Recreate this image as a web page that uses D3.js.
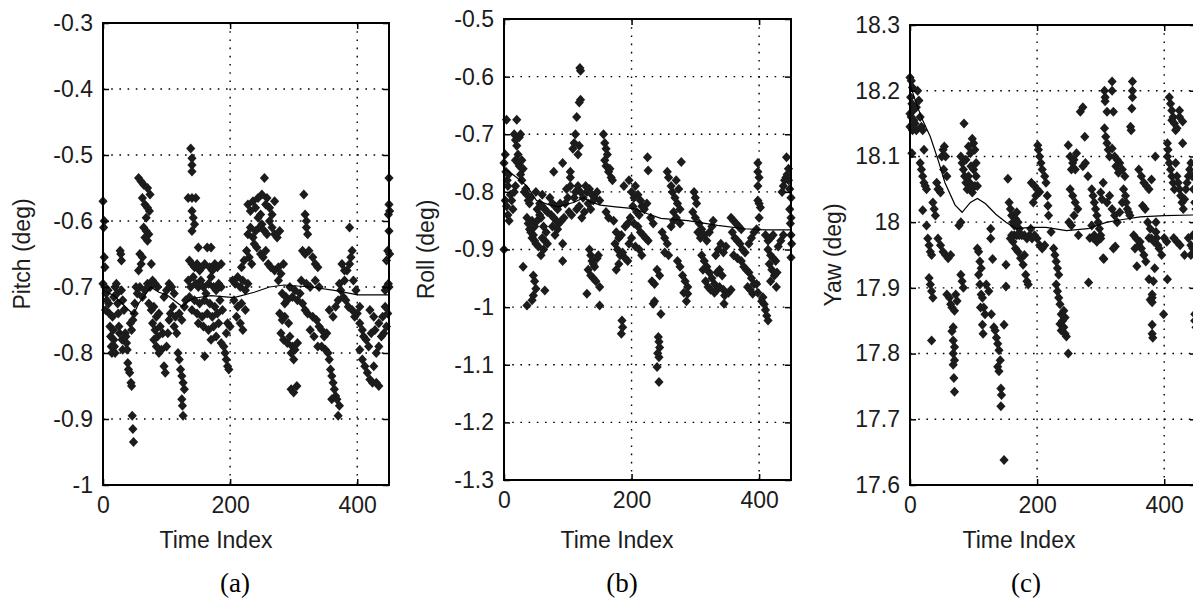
<!DOCTYPE html>
<html>
<head>
<meta charset="utf-8">
<script src="https://cdn.jsdelivr.net/npm/d3@7"></script>
<style>
  body { margin: 0; background: #fff; overflow: hidden; }
  svg { display: block; }
</style>
</head>
<body>
<svg id="fig" width="1193" height="600"></svg>
<script>
'use strict';

// ---- data: [time index, value] ----
const pitchPts = [
  [0,-0.57],[1,-0.61],[2,-0.60],[2,-0.655],[3,-0.67],[0,-0.695],[3,-0.70],[5,-0.71],[6,-0.72],[4,-0.735],[8,-0.705],[9,-0.725],[10,-0.74],[11,-0.76],[12,-0.775],[13,-0.79],[14,-0.80],[16,-0.765],[17,-0.78],[18,-0.79],[19,-0.80],[15,-0.745],[17,-0.715],[19,-0.70],[21,-0.695],[22,-0.71],[23,-0.725],[24,-0.74],[25,-0.76],[26,-0.77],[27,-0.645],[28,-0.65],[29,-0.66],[30,-0.78],[31,-0.795],[29,-0.705],[31,-0.72],
  [33,-0.735],[35,-0.77],[36,-0.775],[37,-0.785],[38,-0.795],[39,-0.815],[40,-0.825],[42,-0.83],[44,-0.845],[45,-0.85],[46,-0.895],[47,-0.915],[48,-0.935],[43,-0.755],[45,-0.765],[47,-0.75],[49,-0.74],[50,-0.725],[52,-0.70],[54,-0.71],
  [56,-0.535],[60,-0.54],[64,-0.545],[70,-0.55],[74,-0.56],[62,-0.565],[66,-0.575],[70,-0.58],[73,-0.585],[68,-0.595],[64,-0.61],[68,-0.615],[72,-0.62],[66,-0.625],[70,-0.63],[58,-0.65],[62,-0.655],[60,-0.665],[56,-0.675],[76,-0.665],
  [58,-0.70],[62,-0.715],[66,-0.705],[70,-0.695],[74,-0.70],[78,-0.69],[82,-0.695],[86,-0.70],[72,-0.725],[76,-0.735],[80,-0.73],[84,-0.745],[88,-0.74],[78,-0.755],[82,-0.765],[86,-0.775],[90,-0.76],[94,-0.77],[80,-0.78],[84,-0.79],[88,-0.80],[92,-0.795],[96,-0.82],[98,-0.83],[100,-0.79],[102,-0.77],[104,-0.75],[106,-0.74],[96,-0.715],[100,-0.705],[104,-0.695],[108,-0.70],[112,-0.71],[110,-0.73],[114,-0.745],[112,-0.76],[116,-0.77],[118,-0.80],[120,-0.81],[122,-0.825],[124,-0.835],[126,-0.845],[128,-0.855],[124,-0.87],[125,-0.88],[126,-0.895],[120,-0.74],[124,-0.75],[128,-0.73],[130,-0.72],
  [138,-0.49],[140,-0.505],[140,-0.515],[140,-0.525],[134,-0.565],[140,-0.565],[146,-0.565],[140,-0.585],[142,-0.595],[144,-0.605],[140,-0.615],[150,-0.64],[136,-0.66],[140,-0.665],[144,-0.67],[148,-0.665],[152,-0.675],[156,-0.67],[160,-0.665],[164,-0.64],[170,-0.64],[168,-0.67],[172,-0.675],[176,-0.665],[180,-0.67],[186,-0.665],[134,-0.69],[138,-0.70],[142,-0.685],[146,-0.695],[150,-0.70],[154,-0.69],[158,-0.70],[162,-0.71],[166,-0.695],[170,-0.685],[174,-0.70],[178,-0.705],[182,-0.695],[186,-0.70],[136,-0.715],[144,-0.72],[152,-0.725],[160,-0.72],[168,-0.725],[176,-0.73],[184,-0.72],[140,-0.735],[148,-0.74],[156,-0.745],[164,-0.74],[172,-0.745],[180,-0.74],[188,-0.735],[150,-0.755],[158,-0.76],[166,-0.765],[174,-0.76],[182,-0.755],[160,-0.805],[170,-0.78],[178,-0.775],[186,-0.785],[190,-0.79],[192,-0.80],[194,-0.81],[196,-0.82],[198,-0.825],[194,-0.77],[196,-0.755],[200,-0.76],
  [204,-0.69],[208,-0.695],[212,-0.685],[216,-0.70],[220,-0.69],[224,-0.705],[228,-0.695],[206,-0.72],[212,-0.73],[218,-0.725],[224,-0.735],[210,-0.745],[216,-0.755],[220,-0.765],[226,-0.645],[230,-0.655],[234,-0.665],[218,-0.67],[222,-0.66],[228,-0.62],[232,-0.61],[236,-0.625],[240,-0.615],[228,-0.575],[232,-0.585],[236,-0.57],[240,-0.58],[244,-0.595],[248,-0.59],[244,-0.565],[250,-0.56],[254,-0.535],[238,-0.635],[242,-0.64],[246,-0.61],[250,-0.605],[254,-0.615],[258,-0.62],[262,-0.60],[266,-0.61],[270,-0.62],[274,-0.625],[278,-0.615],[256,-0.575],[258,-0.565],[262,-0.58],[266,-0.59],[270,-0.57],[248,-0.65],[252,-0.655],[256,-0.645],[260,-0.665],[264,-0.67],[270,-0.675],[276,-0.67],[280,-0.68],[284,-0.665],[276,-0.69],
  [282,-0.71],[286,-0.725],[288,-0.715],[278,-0.74],[282,-0.75],[286,-0.745],[292,-0.755],[280,-0.77],[284,-0.78],[290,-0.785],[294,-0.775],[298,-0.79],[302,-0.795],[306,-0.785],[296,-0.80],[300,-0.81],[296,-0.855],[300,-0.86],[305,-0.85],[290,-0.72],[294,-0.70],[298,-0.715],[302,-0.705],[306,-0.72],[310,-0.71],[314,-0.725],[318,-0.735],[316,-0.56],[318,-0.59],[320,-0.60],[320,-0.61],[322,-0.62],[314,-0.645],[318,-0.65],[324,-0.645],[330,-0.655],[334,-0.665],[338,-0.67],[312,-0.69],[320,-0.695],[326,-0.70],[334,-0.69],[340,-0.70],[322,-0.74],[330,-0.745],[336,-0.75],[340,-0.76],[344,-0.765],[348,-0.775],[352,-0.77],[326,-0.765],[332,-0.775],[338,-0.79],[344,-0.79],[350,-0.795],[354,-0.80],
  [356,-0.81],[358,-0.825],[360,-0.835],[362,-0.845],[364,-0.855],[366,-0.865],[360,-0.87],[368,-0.87],[372,-0.88],[370,-0.895],[356,-0.735],[362,-0.745],[366,-0.73],[370,-0.72],[374,-0.705],[378,-0.715],[382,-0.72],[386,-0.73],[372,-0.695],[380,-0.69],[384,-0.675],[388,-0.665],[390,-0.655],[392,-0.645],[388,-0.61],[376,-0.665],[380,-0.675],[394,-0.69],[398,-0.705],[392,-0.735],[396,-0.745],[400,-0.74],[404,-0.73],
  [404,-0.755],[408,-0.765],[410,-0.775],[414,-0.78],[418,-0.79],[404,-0.795],[408,-0.81],[412,-0.82],[416,-0.83],[420,-0.84],[424,-0.845],[430,-0.845],[434,-0.85],[426,-0.82],[430,-0.80],[434,-0.79],[438,-0.775],[442,-0.77],[446,-0.76],[422,-0.77],[428,-0.765],[434,-0.755],[440,-0.745],[444,-0.73],[448,-0.74],[420,-0.735],[426,-0.745],[446,-0.70],[449,-0.695],[450,-0.535],[450,-0.575],[451,-0.585],[449,-0.59],[450,-0.615],[448,-0.645],[451,-0.65],[446,-0.66],[450,-0.70],[444,-0.705]
];
const pitchMean = [[0,-0.705],[17,-0.713],[30,-0.725],[48,-0.742],[56,-0.725],[64,-0.715],[75,-0.70],[88,-0.708],[101,-0.712],[114,-0.722],[125,-0.73],[133,-0.722],[143,-0.717],[170,-0.713],[206,-0.716],[238,-0.708],[262,-0.70],[285,-0.697],[327,-0.70],[364,-0.705],[401,-0.712],[451,-0.712]];

const rollPts = [
  [0,-0.75],[2,-0.735],[3,-0.765],[4,-0.675],[5,-0.78],[6,-0.79],[7,-0.77],[2,-0.815],[4,-0.825],[6,-0.84],[8,-0.85],[0,-0.90],[10,-0.805],[12,-0.815],[14,-0.83],[16,-0.80],[18,-0.79],[20,-0.675],[16,-0.70],[18,-0.71],[20,-0.72],[22,-0.735],[18,-0.745],[22,-0.75],[24,-0.755],[26,-0.77],[28,-0.78],[24,-0.705],[26,-0.70],[28,-0.745],[30,-0.76],[32,-0.80],[34,-0.795],[30,-0.93],
  [36,-0.805],[38,-0.815],[40,-0.82],[42,-0.81],[36,-0.845],[38,-0.855],[40,-0.865],[42,-0.87],[44,-0.88],[46,-0.875],[48,-0.885],[50,-0.89],[44,-0.85],[48,-0.86],[52,-0.85],[56,-0.84],[46,-0.945],[48,-0.955],[36,-0.997],[44,-0.988],[46,-0.98],[50,-0.968],[64,-0.971],[52,-0.83],[56,-0.82],[60,-0.825],[64,-0.83],[68,-0.835],[58,-0.845],[62,-0.86],[66,-0.87],[60,-0.88],[64,-0.885],[54,-0.895],[58,-0.91],[62,-0.90],[68,-0.89],[50,-0.80],[60,-0.805],
  [72,-0.81],[76,-0.82],[80,-0.825],[84,-0.83],[88,-0.82],[74,-0.84],[78,-0.845],[82,-0.85],[86,-0.855],[90,-0.85],[94,-0.845],[78,-0.765],[92,-0.75],[76,-0.86],[80,-0.875],[84,-0.865],[92,-0.89],[92,-0.92],[96,-0.82],[100,-0.81],[104,-0.79],[104,-0.775],[104,-0.765],[98,-0.795],[102,-0.835],[106,-0.84],[110,-0.81],[108,-0.725],[110,-0.715],[112,-0.70],[114,-0.67],[116,-0.735],[118,-0.645],[120,-0.64],[120,-0.59],[119,-0.585],[118,-0.72],
  [112,-0.80],[116,-0.79],[120,-0.80],[124,-0.81],[128,-0.79],[114,-0.83],[118,-0.825],[122,-0.845],[126,-0.835],[130,-0.80],[134,-0.795],[138,-0.805],[142,-0.81],[146,-0.80],[150,-0.815],[132,-0.82],[136,-0.83],[140,-0.815],[134,-0.90],[136,-0.91],[138,-0.92],[140,-0.925],[142,-0.93],[136,-0.945],[140,-0.95],[144,-0.955],[132,-0.935],[146,-0.915],[148,-0.91],[130,-0.977],[150,-0.965],[150,-0.997],[156,-0.70],[158,-0.715],[160,-0.725],[162,-0.735],[158,-0.745],[160,-0.755],[164,-0.765],[166,-0.76],[168,-0.775],[170,-0.78],[160,-0.835],[164,-0.845],
  [172,-0.85],[176,-0.87],[180,-0.88],[184,-0.875],[174,-0.89],[178,-0.90],[182,-0.91],[186,-0.905],[190,-0.915],[194,-0.92],[180,-0.925],[176,-0.935],[196,-0.89],[200,-0.88],[190,-0.86],[194,-0.855],[198,-0.845],[185,-1.023],[186,-1.035],[184,-1.046],[188,-0.79],[196,-0.78],[200,-0.80],[204,-0.81],[206,-0.79],[210,-0.805],[214,-0.815],[202,-0.825],[208,-0.835],[212,-0.84],[216,-0.825],[220,-0.83],[224,-0.82],[204,-0.855],[210,-0.86],[214,-0.87],[218,-0.875],[222,-0.88],[226,-0.885],[206,-0.895],[212,-0.90],[216,-0.91],
  [225,-0.74],[226,-0.763],[230,-0.845],[234,-0.855],[232,-0.955],[236,-0.96],[234,-0.994],[236,-0.99],[246,-1.012],[242,-1.052],[243,-1.06],[244,-1.07],[241,-1.08],[243,-1.087],[240,-1.104],[243,-1.13],[240,-0.935],[244,-0.945],[248,-0.87],[252,-0.88],[256,-0.89],[252,-0.905],[258,-0.91],[262,-0.86],[266,-0.85],[256,-0.765],[258,-0.775],[262,-0.79],[264,-0.80],[268,-0.81],[272,-0.82],[276,-0.83],[270,-0.78],[274,-0.795],[278,-0.748],[266,-0.835],[270,-0.845],[276,-0.855],[272,-0.92],[276,-0.93],[280,-0.945],[284,-0.955],[288,-0.965],[282,-0.975],[286,-0.99],[288,-0.977],
  [298,-0.80],[300,-0.81],[302,-0.82],[296,-0.835],[300,-0.845],[306,-0.855],[310,-0.865],[314,-0.875],[318,-0.885],[322,-0.87],[326,-0.86],[328,-0.85],[304,-0.87],[308,-0.88],[310,-0.91],[314,-0.92],[318,-0.93],[322,-0.94],[326,-0.95],[330,-0.96],[316,-0.955],[320,-0.965],[324,-0.97],[312,-0.935],[330,-0.975],[334,-0.97],[338,-0.965],[334,-0.94],[338,-0.935],[342,-0.945],[332,-0.91],[336,-0.90],[340,-0.89],[344,-0.905],[348,-0.895],[344,-0.97],[346,-0.98],[345,-0.994],[352,-0.975],[356,-0.97],
  [356,-0.845],[360,-0.85],[364,-0.855],[368,-0.86],[372,-0.865],[358,-0.87],[362,-0.88],[366,-0.885],[370,-0.89],[374,-0.90],[378,-0.905],[360,-0.91],[366,-0.915],[372,-0.92],[376,-0.93],[380,-0.935],[384,-0.94],[388,-0.95],[392,-0.96],[382,-0.965],[386,-0.97],[390,-0.977],[384,-0.89],[388,-0.88],[392,-0.87],[396,-0.865],[398,-0.75],[398,-0.765],[400,-0.775],[398,-0.79],[398,-0.815],[400,-0.82],[402,-0.827],[400,-0.845],[396,-0.96],[398,-0.975],
  [406,-0.983],[408,-0.995],[410,-1.005],[412,-1.015],[414,-1.023],[404,-0.99],[410,-0.875],[414,-0.885],[418,-0.88],[422,-0.875],[414,-0.90],[418,-0.91],[422,-0.915],[426,-0.92],[416,-0.925],[420,-0.935],[424,-0.945],[418,-0.955],[428,-0.94],[427,-0.965],[430,-0.895],[434,-0.885],[438,-0.875],[436,-0.80],[438,-0.79],[440,-0.78],[442,-0.775],[444,-0.77],[446,-0.78],[443,-0.74],[446,-0.76],[448,-0.795],[450,-0.81],[448,-0.83],[450,-0.845],[449,-0.855],[450,-0.875],[451,-0.89],[450,-0.914]
];
const rollMean = [[0,-0.76],[8,-0.765],[20,-0.775],[36,-0.79],[51,-0.815],[70,-0.822],[85,-0.826],[110,-0.818],[125,-0.81],[135,-0.817],[151,-0.823],[175,-0.826],[204,-0.829],[225,-0.838],[246,-0.846],[288,-0.85],[335,-0.858],[377,-0.864],[410,-0.866],[451,-0.866]];

const yawPts = [
  [0,18.22],[2,18.215],[4,18.205],[1,18.19],[3,18.18],[5,18.17],[0,18.165],[2,18.16],[6,18.155],[8,18.15],[0,18.145],[4,18.14],[10,18.14],[12,18.2],[14,18.185],[10,18.175],[16,18.16],[18,18.145],[20,18.14],[3,18.105],[22,18.11],[16,18.09],[18,18.08],[20,18.07],[22,18.06],[24,18.055],[26,18.05],[20,18.018],[26,17.995],[28,17.975],[30,17.965],[32,17.955],[34,17.95],[30,17.915],[32,17.905],[34,17.895],[36,17.885],[34,17.82],
  [36,18.03],[38,18.02],[40,18.01],[42,18.06],[44,18.05],[46,18.05],[48,18.045],[50,18.10],[52,18.11],[54,18.115],[56,18.10],[53,18.08],[58,18.07],[44,17.975],[48,17.965],[52,17.955],[56,17.95],[60,17.945],[58,17.89],[62,17.885],[64,17.875],[66,17.87],[70,17.865],[72,17.89],[74,17.88],[64,17.95],[68,17.84],[66,17.834],[68,17.82],[70,17.81],[68,17.80],[70,17.79],[68,17.783],[69,17.763],[70,17.742],[77,17.995],[80,18.0],
  [80,18.10],[82,18.09],[84,18.08],[86,18.07],[88,18.06],[90,18.05],[85,18.15],[92,18.115],[95,18.105],[98,18.127],[100,18.12],[102,18.11],[96,18.085],[100,18.08],[104,18.07],[106,18.055],[94,18.06],[98,18.045],[102,18.055],[88,18.095],[92,18.07],[96,18.05],[104,18.09],[80,17.92],[82,17.91],[84,17.90],[106,17.96],[108,17.955],[110,17.94],[112,17.93],[108,17.92],[110,17.905],[112,17.89],[114,17.885],[116,17.87],[111,17.87],[114,17.844],[115,17.83],[118,17.86],
  [120,17.905],[124,17.895],[127,17.99],[127,17.975],[130,17.944],[128,17.86],[132,17.84],[134,17.835],[136,17.824],[138,17.815],[140,17.805],[142,17.79],[138,17.78],[140,17.773],[143,17.747],[144,17.737],[143,17.72],[148,17.638],[148,17.844],[151,17.902],[151,17.935],[154,18.066],[156,18.03],[158,18.02],[160,18.01],[162,18.0],[164,17.995],[166,18.005],[168,18.015],[170,18.0],[172,17.99],[160,17.98],[164,17.98],[168,17.98],[172,17.98],[176,17.98],[180,17.98],[158,17.975],[162,17.97],[166,17.96],[170,17.955],[174,17.945],[178,17.935],[182,17.92],[184,17.91],[186,17.905],[180,17.95],
  [184,17.975],[188,17.98],[192,17.975],[196,17.98],[200,17.975],[190,17.99],[194,18.03],[198,18.04],[191,18.06],[196,18.055],[200,18.05],[204,18.046],[201,18.117],[202,18.11],[204,18.10],[206,18.09],[208,18.08],[212,18.07],[214,18.06],[216,18.04],[217,18.025],[218,18.01],[204,17.965],[208,17.96],[212,17.965],[222,17.985],[226,17.96],[228,17.95],[230,17.94],[232,17.93],[234,17.92],[230,17.905],[232,17.895],[234,17.885],[236,17.875],[238,17.86],[240,17.85],[236,17.845],[238,17.835],[242,17.84],[244,17.83],[246,17.826],[249,17.80],[242,17.865],[244,17.855],
  [249,18.117],[252,18.1],[256,18.09],[260,18.08],[254,18.08],[258,18.095],[262,18.105],[252,18.05],[256,18.04],[260,18.03],[264,18.02],[250,18.0],[254,17.995],[258,18.01],[265,17.98],[268,18.168],[272,18.175],[275,18.13],[272,18.085],[276,18.09],[280,18.07],[281,17.908],[286,18.05],[288,18.04],[290,18.03],[292,18.02],[294,18.01],[296,18.0],[298,17.99],[300,17.98],[286,17.995],[290,17.98],[294,17.97],[300,18.045],[302,18.035],[304,18.06],[300,17.975],[283,17.976],[288,17.976],[292,17.976],[304,17.945],
  [306,18.2],[307,18.19],[307,18.184],[310,18.168],[306,18.143],[308,18.13],[310,18.12],[312,18.11],[314,18.10],[318,18.214],[318,18.2],[320,18.168],[318,18.112],[322,18.10],[326,18.095],[330,18.09],[334,18.08],[338,18.07],[324,18.085],[328,18.075],[305,17.944],[320,17.96],[323,17.963],[310,18.03],[314,18.04],[318,18.02],[322,18.01],[326,18.0],[330,18.015],[334,18.03],[339,18.04],[336,18.05],[340,18.03],[342,18.02],[344,18.015],[346,18.01],[350,18.214],[350,18.2],[350,18.19],[349,18.173],[347,18.145],[348,18.14],
  [352,17.98],[356,17.975],[360,17.965],[364,17.96],[368,17.95],[371,17.94],[357,17.933],[354,17.96],[362,17.97],[360,18.08],[364,18.07],[368,18.06],[372,18.055],[376,18.05],[380,18.065],[366,18.025],[370,18.02],[374,18.0],[378,17.99],[376,17.976],[380,17.975],[384,17.97],[388,17.976],[392,17.96],[396,17.95],[400,17.976],[404,17.97],[376,17.913],[378,17.882],[381,17.885],[381,17.878],[381,17.844],[381,17.83],[382,17.824],[399,17.86],[385,17.93],[383,17.91],[381,17.89],[387,18.0],[387,17.985],[390,17.965],[386,18.1],
  [405,18.12],[406,18.11],[405,18.10],[408,18.19],[410,18.18],[412,18.17],[414,18.16],[416,18.15],[418,18.14],[412,18.155],[420,18.143],[424,18.17],[424,18.16],[408,18.09],[410,18.08],[412,18.07],[414,18.06],[416,18.05],[418,18.09],[420,18.07],[422,18.06],[424,18.05],[426,18.04],[428,18.03],[430,18.02],[432,18.035],[434,18.05],[436,18.06],[438,18.07],[440,18.08],[442,18.09],[444,18.07],[446,18.05],[448,18.03],[450,18.02],[429,18.12],[429,18.153],[405,17.913],[415,17.976],[420,17.97],[425,17.965],[432,17.95],[438,17.976],[442,17.965],[445,17.98],[448,17.86],[448,17.85],[450,17.84],[445,17.96],[442,17.95]
];
const yawMean = [[0,18.21],[10,18.18],[20,18.155],[32,18.13],[45,18.092],[55,18.06],[71,18.026],[82,18.015],[95,18.03],[106,18.036],[119,18.028],[135,18.012],[151,18.0],[167,17.99],[190,17.992],[214,17.992],[246,17.987],[280,17.99],[310,18.0],[335,18.004],[362,18.008],[400,18.01],[451,18.011]];

const xTickVals = [0, 200, 400];
const pitchTicks = [-1, -0.9, -0.8, -0.7, -0.6, -0.5, -0.4, -0.3];
const rollTicks = [-1.3, -1.2, -1.1, -1, -0.9, -0.8, -0.7, -0.6, -0.5];
const yawTicks = [17.6, 17.7, 17.8, 17.9, 18, 18.1, 18.2, 18.3];

// ---- layout ----
const panels = [
  { pts: pitchPts, mean: pitchMean, ticks: pitchTicks, ylab: 'Pitch (deg)', cap: '(a)',
    left: 103, top: 23, right: 389, bottom: 485, ylabX: 30, xlabX: 216, capX: 235 },
  { pts: rollPts, mean: rollMean, ticks: rollTicks, ylab: 'Roll (deg)', cap: '(b)',
    left: 504, top: 19, right: 791, bottom: 480, ylabX: 434, xlabX: 617, capX: 622 },
  { pts: yawPts, mean: yawMean, ticks: yawTicks, ylab: 'Yaw (deg)', cap: '(c)',
    left: 910, top: 25, right: 1196, bottom: 485, ylabX: 841, xlabX: 1019, capX: 1026 }
];

const font_sans = '"Liberation Sans", Arial, sans-serif';
const font_serif = '"Liberation Serif", "Times New Roman", serif';
const font_size = 23;
const ink = '#1c1c1c';
const diamond = 'M0,-5L4.6,0L0,5L-4.6,0Z';

const svg = d3.select('#fig');

panels.forEach(function(p) {
  const x = d3.scaleLinear().domain([0, 450]).range([p.left, p.right]);
  const y = d3.scaleLinear().domain(d3.extent(p.ticks)).range([p.bottom, p.top]);
  const g = svg.append('g');

  // dotted grid
  g.append('g').selectAll('line.gx')
    .data(xTickVals.filter(d => d > 0))
    .enter().append('line')
    .attr('x1', d => x(d)).attr('x2', d => x(d))
    .attr('y1', p.top).attr('y2', p.bottom)
    .attr('stroke', '#000').attr('stroke-width', 1.4)
    .attr('stroke-dasharray', '1.6,6.6');
  g.append('g').selectAll('line.gy')
    .data(p.ticks.slice(1, -1))
    .enter().append('line')
    .attr('x1', p.left).attr('x2', p.right)
    .attr('y1', d => y(d)).attr('y2', d => y(d))
    .attr('stroke', '#000').attr('stroke-width', 1.4)
    .attr('stroke-dasharray', '1.6,6.6');

  // markers
  g.append('g').selectAll('path')
    .data(p.pts)
    .enter().append('path')
    .attr('d', diamond)
    .attr('transform', d => 'translate(' + x(d[0]) + ',' + y(d[1]) + ')')
    .attr('fill', ink);

  // running mean
  g.append('path')
    .datum(p.mean)
    .attr('d', d3.line().x(d => x(d[0])).y(d => y(d[1])))
    .attr('fill', 'none')
    .attr('stroke', '#000')
    .attr('stroke-width', 1.2);

  // axes, ticks pointing inwards
  const axL = d3.axisLeft(y).tickValues(p.ticks).tickSizeInner(-6).tickSizeOuter(0)
    .tickPadding(10).tickFormat(d => String(d));
  const axR = d3.axisRight(y).tickValues(p.ticks).tickSizeInner(-6).tickSizeOuter(0).tickFormat('');
  const axB = d3.axisBottom(x).tickValues(xTickVals).tickSizeInner(-6).tickSizeOuter(0)
    .tickPadding(12).tickFormat(d => String(d));
  const axT = d3.axisTop(x).tickValues(xTickVals).tickSizeInner(-6).tickSizeOuter(0).tickFormat('');

  [[axL, 'translate(' + p.left + ',0)'], [axR, 'translate(' + p.right + ',0)'],
   [axB, 'translate(0,' + p.bottom + ')'], [axT, 'translate(0,' + p.top + ')']].forEach(function(a) {
    const ga = g.append('g').attr('transform', a[1]).call(a[0]);
    ga.select('.domain').remove();
    ga.selectAll('line').attr('stroke', '#000').attr('stroke-width', 1.5);
    ga.selectAll('text').attr('font-family', font_sans).attr('font-size', font_size).attr('fill', ink);
  });

  // box
  g.append('rect')
    .attr('x', p.left).attr('y', p.top)
    .attr('width', p.right - p.left).attr('height', p.bottom - p.top)
    .attr('fill', 'none').attr('stroke', '#000').attr('stroke-width', 2);

  // labels
  const cy = (p.top + p.bottom) / 2;
  g.append('text')
    .attr('transform', 'translate(' + p.ylabX + ',' + cy + ') rotate(-90)')
    .attr('text-anchor', 'middle')
    .attr('font-family', font_sans).attr('font-size', font_size).attr('fill', ink)
    .text(p.ylab);
  g.append('text')
    .attr('x', p.xlabX).attr('y', 548)
    .attr('text-anchor', 'middle')
    .attr('font-family', font_sans).attr('font-size', font_size).attr('fill', ink)
    .text('Time Index');
  g.append('text')
    .attr('x', p.capX).attr('y', 592)
    .attr('text-anchor', 'middle')
    .attr('font-family', font_serif).attr('font-size', 27).attr('fill', '#000')
    .text(p.cap);
});
</script>
</body>
</html>
